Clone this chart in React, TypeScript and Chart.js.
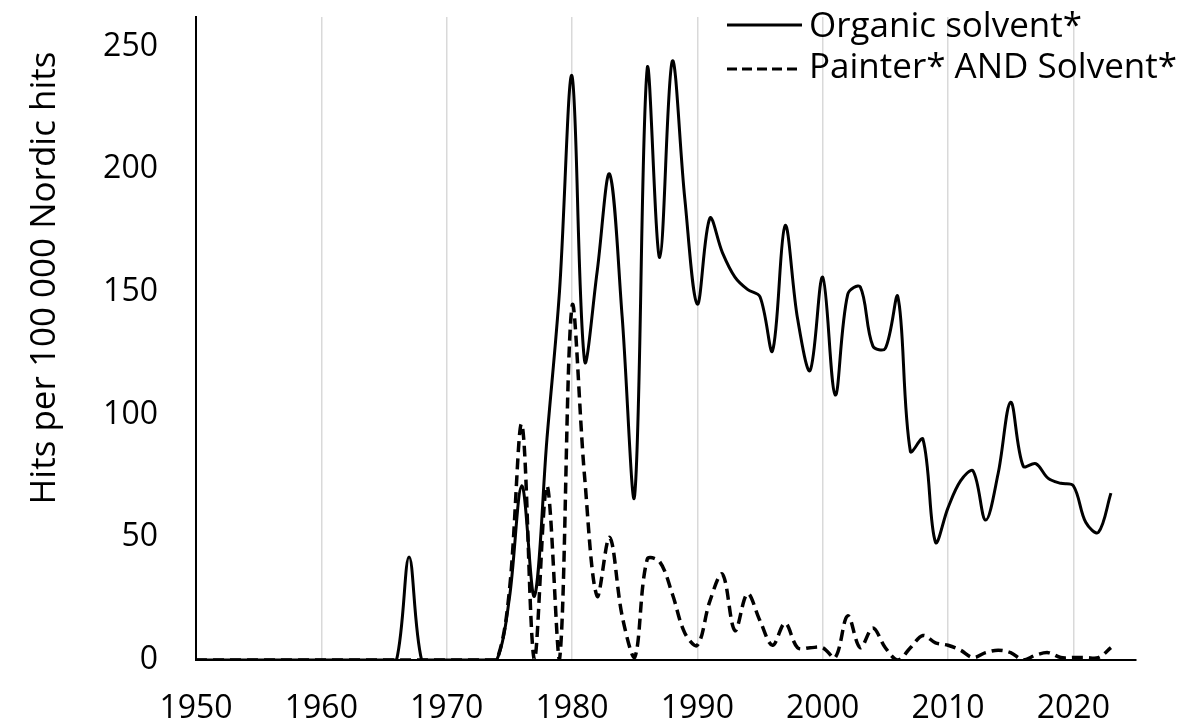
import React, { useEffect, useRef } from "react";
import { Chart, registerables } from "chart.js";

Chart.register(...registerables);

const years = [
  1950, 1951, 1952, 1953, 1954, 1955, 1956, 1957, 1958, 1959,
  1960, 1961, 1962, 1963, 1964, 1965, 1966, 1967, 1968, 1969,
  1970, 1971, 1972, 1973, 1974, 1975, 1976, 1977, 1978, 1979,
  1980, 1981, 1982, 1983, 1984, 1985, 1986, 1987, 1988, 1989,
  1990, 1991, 1992, 1993, 1994, 1995, 1996, 1997, 1998, 1999,
  2000, 2001, 2002, 2003, 2004, 2005, 2006, 2007, 2008, 2009,
  2010, 2011, 2012, 2013, 2014, 2015, 2016, 2017, 2018, 2019,
  2020, 2021, 2022, 2023,
];

const organicSolvent = [
  0, 0, 0, 0, 0, 0, 0, 0, 0, 0,
  0, 0, 0, 0, 0, 0, 0, 42, 0, 0,
  0, 0, 0, 0, 0, 25, 71, 26, 90, 150,
  238, 122, 158, 198, 140, 67, 241, 164, 244, 188,
  145, 180, 166, 156, 151, 148, 126, 177, 139, 118,
  156, 108, 149, 152, 128, 127, 148, 85, 90, 48,
  62, 73, 77, 57, 76, 105, 79, 80, 74, 72,
  71, 56, 52, 68,
];

const painterAndSolvent = [
  0, 0, 0, 0, 0, 0, 0, 0, 0, 0,
  0, 0, 0, 0, 0, 0, 0, 0, 0, 0,
  0, 0, 0, 0, 0, 28, 96, 0, 71, 0,
  144, 75, 26, 50, 18, 1, 41, 40, 27, 11,
  6, 24, 35, 12, 27, 16, 6, 15, 5, 5,
  5, 1, 18, 5, 13, 5, 0, 5, 10, 7,
  6, 4, 1, 3, 4, 3, 0, 2, 3, 1,
  1, 1, 1, 5,
];

const seriesLabels = ["Organic solvent*", "Painter* AND Solvent*"];
const xTicks = [1950, 1960, 1970, 1980, 1990, 2000, 2010, 2020];
const yTicks = [0, 50, 100, 150, 200, 250];
const yAxisTitle = "Hits per 100 000 Nordic hits";

const FONT = '"Open Sans", sans-serif';

export default function App() {
  const ref = useRef<HTMLCanvasElement | null>(null);

  useEffect(() => {
    if (!ref.current) return;

    const overlay = {
      id: "overlay",
      afterDraw(chart: any) {
        const ctx = chart.ctx as CanvasRenderingContext2D;
        ctx.save();
        ctx.fillStyle = "#000";
        ctx.font = `35px ${FONT}`;
        ctx.translate(45, 278);
        ctx.rotate(-Math.PI / 2);
        ctx.textAlign = "center";
        ctx.textBaseline = "middle";
        ctx.fillText(yAxisTitle, 0, 0);
        ctx.restore();

        chart.data.datasets.forEach((ds: any, i: number) => {
          const lineY = 25 + i * 44;
          const baseY = 37 + i * 41;
          ctx.save();
          ctx.strokeStyle = "#000";
          ctx.lineWidth = 3;
          ctx.setLineDash(ds.borderDash ? [10, 5] : []);
          ctx.beginPath();
          ctx.moveTo(727, lineY);
          ctx.lineTo(802, lineY);
          ctx.stroke();
          ctx.setLineDash([]);
          ctx.fillStyle = "#000";
          ctx.font = `35px ${FONT}`;
          ctx.textAlign = "left";
          ctx.textBaseline = "alphabetic";
          ctx.fillText(ds.label, 809, baseY);
          ctx.restore();
        });
      },
    };

    const chart = new Chart(ref.current, {
      type: "line",
      data: {
        datasets: [
          {
            label: seriesLabels[0],
            data: years.map((yr, i) => ({ x: yr, y: organicSolvent[i] })),
            borderColor: "#000",
            borderWidth: 3,
            pointRadius: 0,
            tension: 0.35,
            fill: false,
          },
          {
            label: seriesLabels[1],
            data: years.map((yr, i) => ({ x: yr, y: painterAndSolvent[i] })),
            borderColor: "#000",
            borderWidth: 3.5,
            borderDash: [11, 6],
            pointRadius: 0,
            tension: 0.35,
            fill: false,
          },
        ],
      },
      options: {
        animation: false,
        responsive: true,
        maintainAspectRatio: false,
        layout: { padding: { left: 0, top: 17, right: 68, bottom: 0 } },
        plugins: {
          legend: { display: false },
          tooltip: { enabled: false },
        },
        scales: {
          x: {
            type: "linear",
            min: 1950,
            max: 2025,
            afterBuildTicks: (scale: any) => {
              scale.ticks = xTicks.map((v) => ({ value: v }));
            },
            afterFit: (scale: any) => {
              scale.height = 68;
              scale.paddingLeft = 0;
              scale.paddingRight = 0;
            },
            grid: {
              display: true,
              drawTicks: false,
              color: (c: any) => (c.tick && c.tick.value === 1950 ? "rgba(0,0,0,0)" : "#d9d9d9"),
              lineWidth: 1.5,
            },
            border: { display: true, color: "#000", width: 2 },
            ticks: {
              color: "#000",
              font: { family: FONT, size: 32 },
              padding: 30,
              maxRotation: 0,
              autoSkip: false,
              callback: (v: any) => String(v),
            },
          },
          y: {
            min: 0,
            max: 262,
            afterBuildTicks: (scale: any) => {
              scale.ticks = yTicks.map((v) => ({ value: v }));
            },
            afterFit: (scale: any) => {
              scale.width = 196;
              scale.paddingTop = 0;
              scale.paddingBottom = 0;
            },
            grid: { display: false, drawTicks: false },
            border: { display: true, color: "#000", width: 2 },
            ticks: {
              color: "#000",
              font: { family: FONT, size: 32 },
              padding: 38,
              callback: (v: any) => String(v),
            },
          },
        },
      },
      plugins: [overlay],
    });

    return () => chart.destroy();
  }, []);

  return (
    <div style={{ position: "absolute", left: 0, top: 0, width: 1204, height: 728 }}>
      <canvas ref={ref} />
    </div>
  );
}
